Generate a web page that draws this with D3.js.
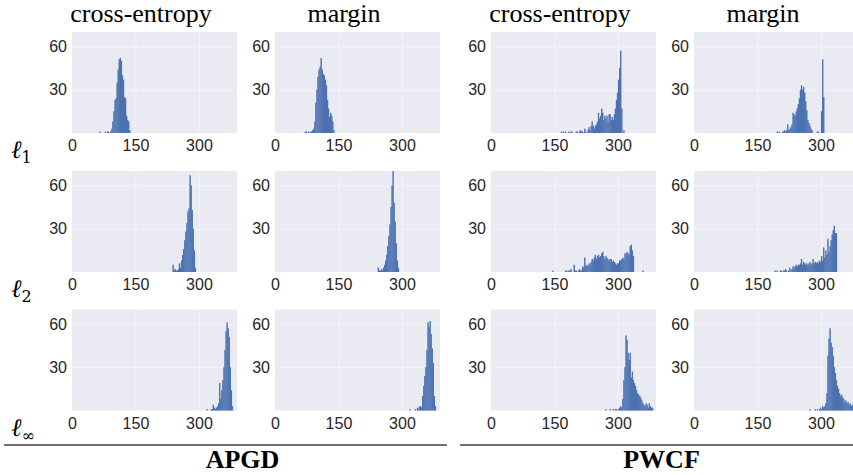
<!DOCTYPE html>
<html lang="en">
<head>
<meta charset="UTF-8">
<title>Histograms</title>
<script src="https://cdnjs.cloudflare.com/ajax/libs/d3/7.8.5/d3.min.js"></script>
<style>
  body { margin: 0; background: #fff; }
  .tick text { fill: #262626; font-family: "Liberation Sans", Arial, sans-serif; font-size: 16px; }
  .title { font-family: "Liberation Serif", "Times New Roman", serif; font-size: 26px; fill: #000; }
  .group { font-family: "Liberation Serif", "Times New Roman", serif; font-size: 26px; font-weight: bold; fill: #000; }
  .norm { font-family: "DejaVu Serif", serif; font-style: italic; fill: #000; }
</style>
</head>
<body>
<svg id="chart" width="853" height="475"></svg>
<script>
// labels
var methods = ["cross-entropy", "margin", "cross-entropy", "margin"];
var norms = ["1", "2", "\u221E"];
var groups = ["APGD", "PWCF"];
var xTicks = [0, 150, 300];
var yTicks = [30, 60];
var binWidth = 2.5;

// histogram counts, one array per panel (bin width 2.5)
var apgdCeL1 = [1,0,0,0,0,1,0,1,1,0,1,3,8,15,23,24,35,44,51,52,50,40,37,25,24,12,9,8,2];
var apgdMgL1 = [1,1,0,1,0,1,1,2,3,8,21,30,39,44,46,52,44,41,40,37,33,23,17,11,14,12,8,2];
var pwcfCeL1 = [1,0,1,0,1,0,0,1,0,1, 1,0,0,0,1,1,0,1,2,1, 1,0,3,1,0,2,4,2,5,8, 5,3,5,6,8,14,10,12,17,14,
                9,12,10,12,8,13,13,9,11,9, 13,17,23,28,37,45,57,17,0,2];
var pwcfMgL1 = [1,0,1,0,0,1,1,2,1,2, 6,2,3,4,6,14,13,12,15,17, 20,24,30,33,30,32,28,22,16,9,
                7,5,3,2,0,0,0,0,1,1, 0,0,15,51,25];

var apgdCeL2 = [5,1,2,1,1,2,6,3,8,12,16,22,28,34,42,44,67,60,43,30,15,3];
var apgdMgL2 = [3,1,1,2,1,3,5,8,12,18,25,33,45,60,70,48,35,20,8,3];
var pwcfCeL2 = [1,0,0,0,0,0,0,0,0,0,0,0,1,1,0,1,1,2,0,0,5,1,1,0,1,2,1,1,4,3,10,
                4,5,4,6,5,7,9,8,10,12,9,11,12,10,11,13,14,11,9,11,10,9,8,9,9,7,8,7,6,5,6,6,8,8,9,10,9,
                13,12,14,13,12,18,19,15,11,0,0,0,0,0,0,0,0,1];
var pwcfMgL2 = [1,0,1,0,0,1,1,0,1,1, 2,1,0,1,3,1,2,4,3,4, 5,4,5,5,6,9,5,7,6,5, 6,5,6,7,5,6,9,6,7,6,
                7,6,8,7,11,8,17,10,15,12, 23,14,18,22,26,29,32,27,27];

var apgdCeLinf = [1,0,0,0,1,1,4,2,1,2,3,5,19,8,14,21,30,42,55,61,57,51,30,14,3];
var apgdMgLinf = [1,0,0,0,0,1,0,2,1,3,3,2,10,17,24,30,42,61,58,62,53,43,33,10,3];
var pwcfCeLinf = [1,0,0,0,1,0,0,1,0,1, 1,0,1,2,3,2,8,21,30,52, 49,40,35,40,23,27,21,19,17,14,
                  12,11,10,9,7,5,4,3,5,4, 2,5,3,2,2];
var pwcfMgLinf = [1,0,0,0,0,1,0,1,0,1, 2,1,3,2,3,5,12,38,50,57, 47,44,38,30,26,21,17,15,12,10,
                  11,9,8,6,7,5,6,4,5,3, 4,2,2,1];

// first bin start of each panel
var binStarts = [
  [65, 70, 165, 195],
  [237.5, 242.5, 145, 190],
  [317.5, 317.5, 270, 272.5]
];
var counts = [
  [apgdCeL1, apgdMgL1, pwcfCeL1, pwcfMgL1],
  [apgdCeL2, apgdMgL2, pwcfCeL2, pwcfMgL2],
  [apgdCeLinf, apgdMgLinf, pwcfCeLinf, pwcfMgLinf]
];

var colLeft = [72, 275, 491, 694];
var rowTop = [32, 171, 309.5];
var w = 165, h = 101;

var svg = d3.select("#chart");

var x = d3.scaleLinear().domain([0, 390]).range([0, w]);
var y = d3.scaleLinear().domain([0, 70]).range([h, 0]);

// column titles
methods.forEach(function(m, c) {
  svg.append("text").attr("class", "title")
    .attr("x", colLeft[c] + w / 2 - 13.5).attr("y", 22)
    .attr("text-anchor", "middle").text(m);
});

counts.forEach(function(row, r) {
  row.forEach(function(vals, c) {
    var g = svg.append("g").attr("transform", "translate(" + colLeft[c] + "," + rowTop[r] + ")");
    g.append("rect").attr("width", w).attr("height", h).attr("fill", "#eaeaf2");

    // grid
    g.append("g").attr("transform", "translate(0," + h + ")")
      .call(d3.axisBottom(x).tickValues([150, 300]).tickSize(-h).tickFormat(""))
      .call(function(s) { s.select(".domain").remove(); s.selectAll("line").attr("stroke", "#fff").attr("stroke-opacity", 0.55).attr("stroke-width", 0.8); });
    g.append("g")
      .call(d3.axisLeft(y).tickValues(yTicks).tickSize(-w).tickFormat(""))
      .call(function(s) { s.select(".domain").remove(); s.selectAll("line").attr("stroke", "#fff").attr("stroke-opacity", 0.55).attr("stroke-width", 0.8); });

    // bars
    var bins = vals.map(function(v, i) {
      return { x0: binStarts[r][c] + i * binWidth, v: v };
    }).filter(function(d) { return d.v > 0; });
    g.selectAll(".bar").data(bins).enter().append("rect")
      .attr("class", "bar")
      .attr("x", function(d) { return x(d.x0); })
      .attr("width", function(d) { return x(d.x0 + binWidth) - x(d.x0) + 0.35; })
      .attr("y", function(d) { return y(d.v); })
      .attr("height", function(d) { return y(0) - y(d.v); })
      .attr("fill", "#4c72b0");

    // tick labels
    g.append("g").attr("transform", "translate(0," + h + ")")
      .call(d3.axisBottom(x).tickValues(xTicks).tickSize(0).tickPadding(7))
      .call(function(s) { s.select(".domain").remove(); });
    g.append("g")
      .call(d3.axisLeft(y).tickValues(yTicks).tickSize(0).tickPadding(5))
      .call(function(s) { s.select(".domain").remove(); });
    g.selectAll(".tick text").attr("font-size", null).attr("font-family", null);
  });
});

// row labels
norms.forEach(function(n, r) {
  var t = svg.append("text").attr("class", "norm")
    .attr("x", 11).attr("y", rowTop[r] + h + 25).attr("font-size", 25);
  t.append("tspan").text("\u2113");
  t.append("tspan").attr("font-size", 16).attr("dy", 5).attr("font-style", "normal").text(n);
});

// group rules and labels
var rules = [[4, 447], [460, 853]];
groups.forEach(function(gname, i) {
  svg.append("line").attr("x1", rules[i][0]).attr("x2", rules[i][1])
    .attr("y1", 445).attr("y2", 445).attr("stroke", "#707070").attr("stroke-width", 2);
  var cx = (colLeft[i * 2] + colLeft[i * 2 + 1] + w) / 2 - 13.5;
  svg.append("text").attr("class", "group").attr("x", cx).attr("y", 468)
    .attr("text-anchor", "middle").text(gname);
});
</script>
</body>
</html>
